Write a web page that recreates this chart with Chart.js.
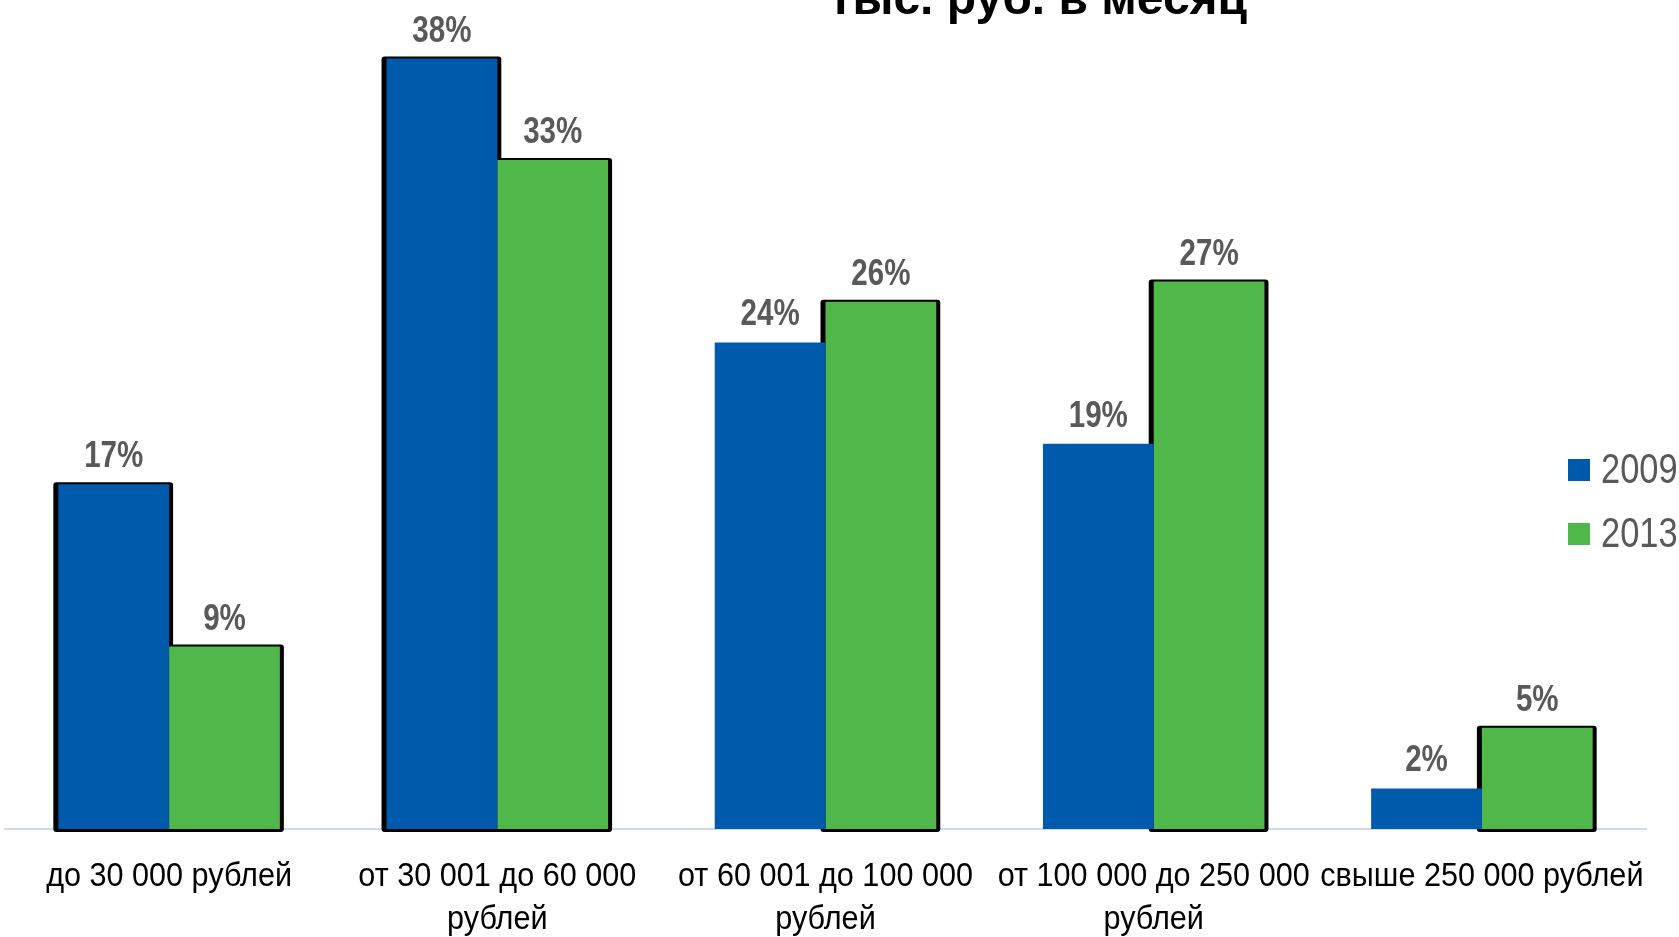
<!DOCTYPE html>
<html>
<head>
<meta charset="utf-8">
<script src="https://cdn.jsdelivr.net/npm/chart.js@4/dist/chart.umd.min.js"></script>
<style>
  html, body { margin: 0; padding: 0; background: #fff; }
  #wrap { width: 1679px; height: 937px; position: relative; }
</style>
</head>
<body>
<div id="wrap"><canvas id="grafico"></canvas></div>
<script>
// Datos del gráfico
const categorias = [
  ['до 30 000 рублей'],
  ['от 30 001 до 60 000', 'рублей'],
  ['от 60 001 до 100 000', 'рублей'],
  ['от 100 000 до 250 000', 'рублей'],
  ['свыше 250 000 рублей']
];
const anios = ['2009', '2013'];
const valores2009 = [17, 38, 24, 19, 2];
const valores2013 = [9, 33, 26, 27, 5];
const tituloTexto = 'тыс. руб. в месяц';

const AZUL = '#005aab';
const VERDE = '#50b84a';
const GRIS = '#595959';
const FUENTE = '"Liberation Sans", Arial, sans-serif';

// texto estrechado horizontalmente (imitación de Arial Narrow)
function textoEstrecho(ctx, txt, x, y, esc) {
  ctx.save();
  ctx.translate(x, y);
  ctx.scale(esc || 0.82, 1);
  ctx.fillText(txt, 0, 0);
  ctx.restore();
}

// sombra negra detrás de las barras (la azul solo cuando es la más alta)
const sombraBarras = {
  id: 'sombraBarras',
  beforeDatasetsDraw(chart) {
    const ctx = chart.ctx;
    ctx.save();
    ctx.fillStyle = '#000';
    chart.data.datasets.forEach((ds, i) => {
      chart.getDatasetMeta(i).data.forEach((bar, j) => {
        if (i === 0 && valores2009[j] <= valores2013[j]) return;
        const w = bar.width;
        const x0 = bar.x - w / 2 - 5;
        const top = bar.y - 2;
        ctx.beginPath();
        ctx.roundRect(x0, top, w + 9, bar.base - top + 3, 3);
        ctx.fill();
      });
    });
    ctx.restore();
  }
};

// etiquetas de porcentaje y categorías
const etiquetas = {
  id: 'etiquetas',
  afterDatasetsDraw(chart) {
    const ctx = chart.ctx;
    ctx.save();
    ctx.fillStyle = GRIS;
    ctx.font = 'bold 36px ' + FUENTE;
    ctx.textAlign = 'center';
    ctx.textBaseline = 'alphabetic';
    chart.data.datasets.forEach((ds, i) => {
      chart.getDatasetMeta(i).data.forEach((bar, j) => {
        textoEstrecho(ctx, ds.data[j] + '%', bar.x, bar.y - 17);
      });
    });

    // etiquetas del eje x
    const xs = chart.scales.x;
    ctx.fillStyle = '#000';
    ctx.font = '34px ' + FUENTE;
    categorias.forEach((lineas, i) => {
      const cx = xs.getPixelForValue(i);
      lineas.forEach((l, k) => {
        textoEstrecho(ctx, l, cx, 886 + k * 43, 0.9);
      });
    });
    ctx.restore();
  }
};

// título cortado arriba y leyenda a la derecha
const tituloLeyenda = {
  id: 'tituloLeyenda',
  afterDraw(chart) {
    const ctx = chart.ctx;
    ctx.save();
    ctx.fillStyle = '#000';
    ctx.font = 'bold 48px ' + FUENTE;
    ctx.textAlign = 'center';
    ctx.textBaseline = 'alphabetic';
    ctx.fillText(tituloTexto, 1038, 14);

    const colores = [AZUL, VERDE];
    const centros = [470, 534];
    ctx.font = '42px ' + FUENTE;
    ctx.textAlign = 'left';
    ctx.textBaseline = 'middle';
    anios.forEach((a, i) => {
      ctx.fillStyle = colores[i];
      ctx.fillRect(1568, centros[i] - 11, 22, 22);
      ctx.fillStyle = GRIS;
      textoEstrecho(ctx, a, 1601, centros[i] + 1);
    });
    ctx.restore();
  }
};

new Chart(document.getElementById('grafico'), {
  type: 'bar',
  data: {
    labels: categorias.map((c) => c.join(' ')),
    datasets: [
      { label: anios[0], data: valores2009, backgroundColor: AZUL, borderWidth: 0 },
      { label: anios[1], data: valores2013, backgroundColor: VERDE, borderWidth: 0 }
    ]
  },
  options: {
    responsive: true,
    maintainAspectRatio: false,
    animation: false,
    layout: { padding: { top: 18, right: 33, left: 5, bottom: 108 } },
    datasets: { bar: { categoryPercentage: 0.675, barPercentage: 1.0 } },
    plugins: {
      legend: { display: false },
      tooltip: { enabled: false }
    },
    scales: {
      x: {
        grid: { display: false, drawTicks: false },
        border: { display: true, color: '#c9dcf0', width: 2 },
        ticks: { display: false }
      },
      y: {
        display: false,
        min: 0,
        max: 40
      }
    }
  },
  plugins: [sombraBarras, etiquetas, tituloLeyenda]
});
</script>
</body>
</html>
